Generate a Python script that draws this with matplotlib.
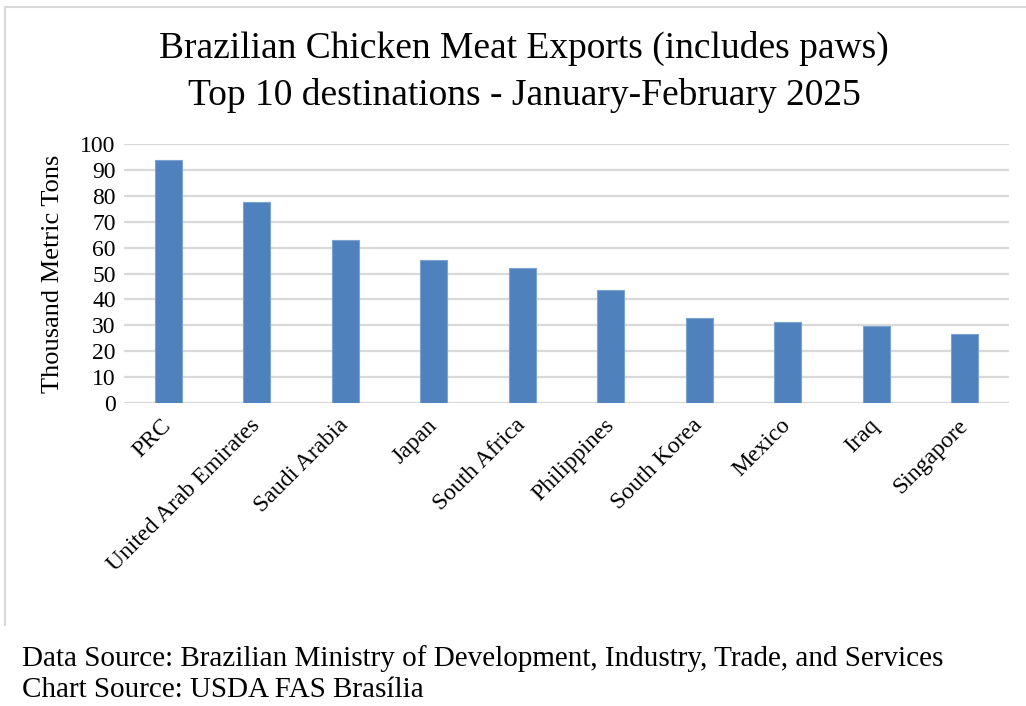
import numpy as np
import matplotlib.pyplot as plt
from matplotlib.lines import Line2D

plt.rcParams['font.family'] = ['Liberation Serif', 'DejaVu Serif']

countries = ['PRC', 'United Arab Emirates', 'Saudi Arabia', 'Japan', 'South Africa',
             'Philippines', 'South Korea', 'Mexico', 'Iraq', 'Singapore']
exports_kt = [94.0, 77.8, 63.1, 55.3, 52.2, 43.7, 32.8, 31.2, 29.8, 26.7]
yticks = list(range(0, 101, 10))

fig = plt.figure(figsize=(10.26, 7.06), dpi=100)
ax = fig.add_axes([0.1209, 0.4292, 0.8625, 0.3668])

x = np.arange(len(countries))
ax.bar(x, exports_kt, width=0.31, color='#4f81bd', edgecolor='#7da3d3', linewidth=0.8, zorder=3)

ax.set_xlim(-0.5, len(countries) - 0.5)
ax.set_ylim(0, 100)
ax.set_yticks(yticks)
ax.set_yticklabels([str(t) for t in yticks], fontsize=17)
ax.set_xticks(x)
ax.set_xticklabels(countries, rotation=45, ha='right', va='center',
                   rotation_mode='anchor', fontsize=17)
ax.tick_params(axis='both', length=0, pad=6)
ax.tick_params(axis='x', pad=14)
ax.yaxis.grid(True, color='#d9d9d9', linewidth=1.6, zorder=0)
ax.set_axisbelow(True)
for s in ax.spines.values():
    s.set_visible(False)

ax.set_ylabel('Thousand Metric Tons', fontsize=19, labelpad=12)

fig.text(0.511, 0.932, 'Brazilian Chicken Meat Exports (includes paws)', ha='center', va='center', fontsize=27)
fig.text(0.511, 0.865, 'Top 10 destinations - January-February 2025', ha='center', va='center', fontsize=27)

fig.text(0.021, 0.067, 'Data Source: Brazilian Ministry of Development, Industry, Trade, and Services',
         ha='left', va='center', fontsize=21)
fig.text(0.021, 0.022, 'Chart Source: USDA FAS Brasília', ha='left', va='center', fontsize=21)

# chart frame (top and left edges visible)
fig.add_artist(Line2D([0.005, 1.0], [0.99, 0.99], color='#d9d9d9', linewidth=1.5))
fig.add_artist(Line2D([0.005, 0.005], [0.115, 0.99], color='#d9d9d9', linewidth=1.5))

fig.savefig('out.png', dpi=100)
